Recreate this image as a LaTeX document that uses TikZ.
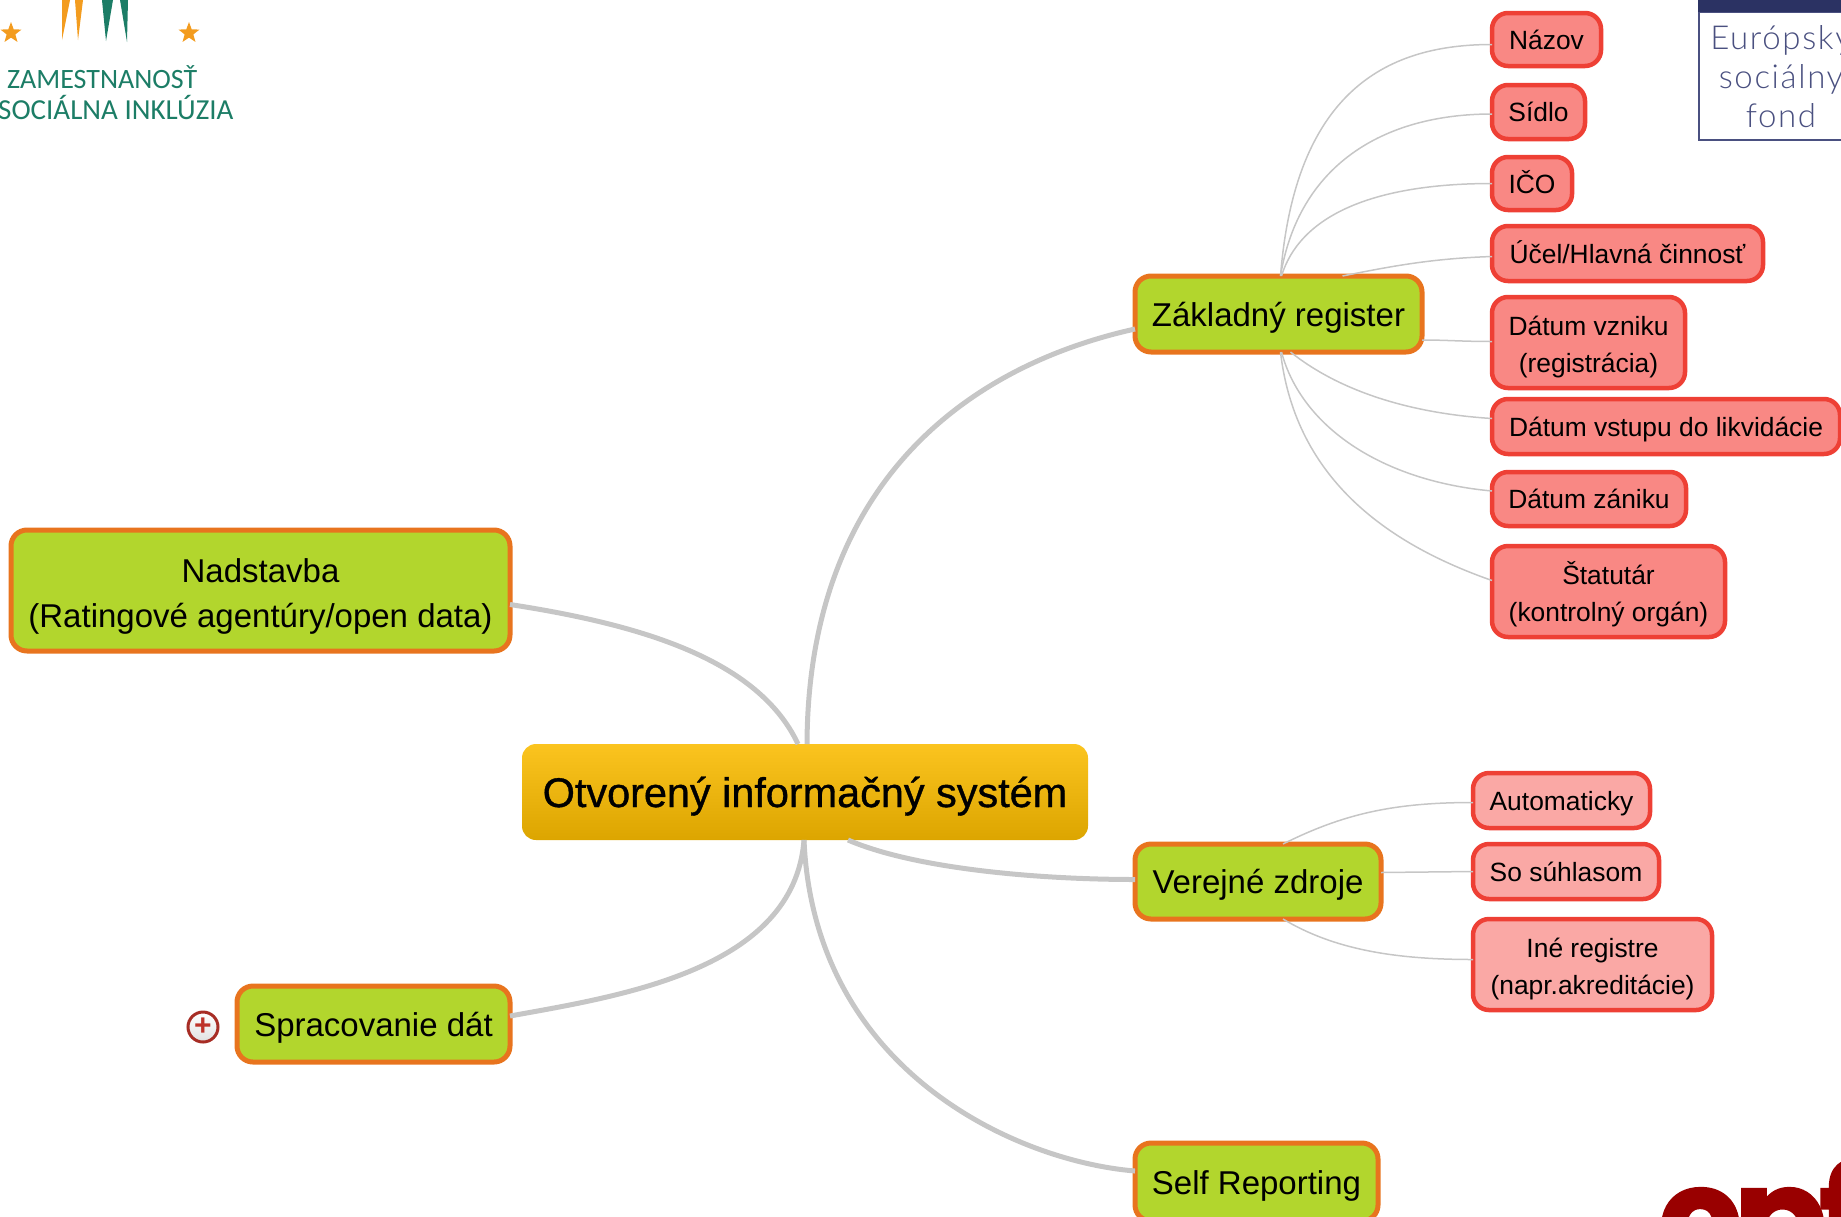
\documentclass[tikz,border=0pt]{standalone}
\usepackage{fontspec}
\setmainfont{Liberation Sans}
\newfontfamily\logofont{Carlito}
\newfontfamily\esffont[LetterSpace=5]{Lato Light}
\newfontfamily\cpffont[FakeBold=1.5,LetterSpace=-6]{Poppins}
\newfontfamily\heavyfont[FakeBold=0.9]{Liberation Sans}
\usetikzlibrary{shapes.geometric}
\definecolor{lime}{HTML}{B2D62D}
\definecolor{limeedge}{HTML}{E8741E}
\definecolor{salmon}{HTML}{F98884}
\definecolor{salmonlt}{HTML}{FAA8A5}
\definecolor{rededge}{HTML}{EE4035}
\definecolor{linegray}{HTML}{C6C6C6}
\definecolor{esfblue}{HTML}{2B3263}
\definecolor{esfline}{HTML}{4A5080}
\definecolor{starorange}{HTML}{F39C1F}
\definecolor{logogreen}{HTML}{1C7D66}
\definecolor{cpfred}{HTML}{990000}
\definecolor{goldtop}{HTML}{FBC41F}
\definecolor{goldbot}{HTML}{DCA500}
\tikzset{
  anybox/.style={rounded corners=16pt,inner sep=0pt,outer sep=0pt,align=center,text=black},
  rootline/.style={text height=36pt,text depth=6pt},
  branchline/.style={text height=29pt,text depth=5pt},
  leafline/.style={text height=23pt,text depth=4pt},
  rootbox/.style={anybox,rounded corners=14pt,draw=none,top color=goldtop,bottom color=goldbot,font=\heavyfont\fontsize{41.4}{46}\selectfont},
  branchbox/.style={anybox,fill=lime,draw=limeedge,line width=5pt,font=\fontsize{33}{45}\selectfont},
  leafbox/.style={anybox,fill=salmon,draw=rededge,line width=4.5pt,font=\fontsize{26.4}{37}\selectfont},
  leaflight/.style={leafbox,fill=salmonlt},
  thickline/.style={draw=linegray,line width=5pt},
  thinline/.style={draw=linegray,line width=1.5pt},
  starmark/.style={star,star points=5,star point ratio=2.4,fill=starorange,inner sep=0pt,minimum size=22pt},
  logotext/.style={inner sep=0pt,anchor=base west,text=logogreen,font=\logofont\fontsize{28}{30}\selectfont},
  esftext/.style={inner sep=0pt,anchor=base,text=esfline,font=\esffont\fontsize{33}{36}\selectfont},
}
\newcommand{\bx}[7]{\node[#1,minimum width={#5-#3},minimum height={#6-#4}] (#2) at ({(#3+#5)/2},{(#4+#6)/2}) {#7};}
\newcommand{\tallline}{\rule{0pt}{1.08em}}
\begin{document}
\begin{tikzpicture}[x=1pt,y=-1pt]
\clip[use as bounding box] (0,0) rectangle (1841,1216);
% left logo
\fill[starorange] (62,0) -- (70,0) -- (62,40) -- cycle;
\fill[starorange] (75,0) -- (83,0) -- (78,40) -- cycle;
\fill[logogreen] (102,0) -- (113,0) -- (106,41) -- cycle;
\fill[logogreen] (120,0) -- (128,0) -- (127,42) -- cycle;
\node[starmark] (star1) at (11,33) {};
\node[starmark] (star2) at (189,33) {};
\node[logotext] (zam) at (7,88) {ZAMESTNANOSŤ};
\node[logotext,font=\logofont\fontsize{29}{30}\selectfont] (soc) at (-2,119) {SOCIÁLNA INKLÚZIA};
% ESF logo
\draw[esfline,line width=2pt] (1699,12) rectangle (1860,140);
\fill[esfblue] (1698,0) rectangle (1841,12);
\node[esftext] (eu) at (1781,49) {Európsky};
\node[esftext] (so) at (1781,88) {sociálny};
\node[esftext] (fo) at (1781,127) {fond};
% cpf logo
\node[inner sep=0pt,anchor=base west,text=cpfred,font=\cpffont\bfseries\fontsize{138}{138}\selectfont] (cpf) at (1658,1266) {cpf};
% nodes
\bx{rootbox,rootline}{root}{522}{744}{1088}{840}{Otvorený informačný systém}
\bx{branchbox,branchline}{zr}{1135}{276}{1422}{352}{Základný register}
\bx{branchbox,branchline}{vz}{1135}{844}{1381}{919}{Verejné zdroje}
\bx{branchbox,branchline}{sr}{1135}{1143}{1378}{1221}{Self Reporting}
\bx{branchbox}{nad}{11}{530}{510}{651}{\tallline Nadstavba\\(Ratingové agentúry/open data)}
\bx{branchbox,branchline}{spr}{237}{986}{510}{1062}{Spracovanie dát}
\bx{leafbox,leafline}{nazov}{1492}{13}{1601}{66}{Názov}
\bx{leafbox,leafline}{sidlo}{1492}{85}{1585}{139}{Sídlo}
\bx{leafbox,leafline}{ico}{1492}{157}{1572}{210}{IČO}
\bx{leafbox,leafline}{ucel}{1492}{226}{1763}{281}{Účel/Hlavná činnosť}
\bx{leafbox}{vznik}{1492}{297}{1685}{388}{\tallline Dátum vzniku\\(registrácia)}
\bx{leafbox,leafline}{vstup}{1492}{399}{1840}{454}{Dátum vstupu do likvidácie}
\bx{leafbox,leafline}{zanik}{1492}{472}{1686}{526}{Dátum zániku}
\bx{leafbox}{stat}{1492}{546}{1725}{637}{\tallline Štatutár\\(kontrolný orgán)}
\bx{leaflight,leafline}{auto}{1473}{773}{1650}{828}{Automaticky}
\bx{leaflight,leafline}{sosu}{1473}{844}{1659}{899}{So súhlasom}
\bx{leaflight}{ine}{1473}{919}{1712}{1010}{\tallline Iné registre\\(napr.akreditácie)}
\node[circle,draw=rededge!70!black,line width=3pt,top color=white,bottom color=black!12,minimum size=30pt,inner sep=0pt,text=rededge!80!black,font=\bfseries\fontsize{30}{30}\selectfont] (plus) at (203,1027) {+};
% thick connectors
\draw[thickline] ([xshift=2pt]root.north) .. controls +(1,-250) and +(-180,40) .. ([yshift=-15pt]zr.west);
\draw[thickline] ([xshift=-7pt]root.north) .. controls +(-40,-85) and +(130,20) .. ([yshift=-14pt]nad.east);
\draw[thickline] ([xshift=-1pt]root.south) .. controls +(-10,130) and +(110,-20) .. ([yshift=8pt]spr.east);
\draw[thickline] ([xshift=43pt]root.south) .. controls +(70,30) and +(-90,0) .. ([yshift=2pt]vz.west);
\draw[thickline] ([xshift=-1pt]root.south) .. controls +(10,230) and +(-120,-10) .. ([yshift=11pt]sr.west);
% thin connectors
\draw[thinline] ([xshift=2pt]zr.north) .. controls +(15,-190) and +(-100,0) .. ([yshift=-5pt]nazov.west);
\draw[thinline] ([xshift=2pt]zr.north) .. controls +(18,-110) and +(-110,0) .. ([yshift=-2pt]sidlo.west);
\draw[thinline] ([xshift=3pt]zr.north) .. controls +(20,-65) and +(-110,0) .. (ico.west);
\draw[thinline] ([xshift=64pt]zr.north) .. controls +(50,-10) and +(-60,2) .. ([yshift=-3pt]ucel.west);
\draw[thinline] ([yshift=-26pt]zr.east) .. controls +(25,0) and +(-30,0) .. ([yshift=1pt]vznik.west);
\draw[thinline] ([xshift=12pt]zr.south) .. controls +(50,40) and +(-80,-5) .. ([yshift=8pt]vstup.west);
\draw[thinline] ([xshift=3pt]zr.south) .. controls +(20,75) and +(-110,-10) .. ([yshift=8pt]zanik.west);
\draw[thinline] ([xshift=2pt]zr.south) .. controls +(15,130) and +(-100,-35) .. ([yshift=11pt]stat.west);
\draw[thinline] ([xshift=25pt]vz.north) .. controls +(60,-30) and +(-80,0) .. ([yshift=-2pt]auto.west);
\draw[thinline] ([yshift=9pt]vz.east) -- (sosu.west);
\draw[thinline] ([xshift=25pt]vz.south) .. controls +(50,30) and +(-80,0) .. ([yshift=5pt]ine.west);
\end{tikzpicture}
\end{document}
